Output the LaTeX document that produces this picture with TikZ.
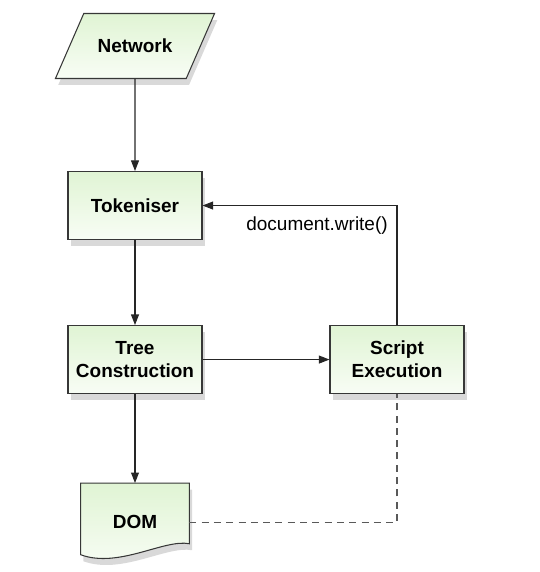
\documentclass[tikz,border=0pt]{standalone}
\usepackage{fontspec}
\setmainfont{Liberation Sans}
\usetikzlibrary{arrows.meta,positioning,shapes.geometric,shadows,backgrounds,calc}

\definecolor{boxtop}{RGB}{224,244,212}
\definecolor{boxbot}{RGB}{248,253,245}
\definecolor{edgegray}{RGB}{55,55,55}

\begin{document}
\begin{tikzpicture}[
    x=0.02cm, y=-0.02cm,
    flowbox/.style={
      rectangle, draw=edgegray, line width=0.6pt,
      top color=boxtop, bottom color=boxbot,
      drop shadow={shadow xshift=0.3ex, shadow yshift=-0.7ex, opacity=0.3},
      align=center, font=\fontsize{10.8}{13}\selectfont\bfseries,
      minimum width=2.68cm, minimum height=1.36cm,
    },
    iobox/.style={
      flowbox, trapezium, trapezium left angle=47, trapezium right angle=133,
      trapezium stretches=true, minimum width=3.2cm, minimum height=1.3cm,
    },
    docfill/.style={
      draw=edgegray, line width=0.6pt,
      top color=boxtop, bottom color=boxbot,
      drop shadow={shadow xshift=0.3ex, shadow yshift=-0.7ex, opacity=0.3},
    },
    arr/.style={-{Triangle[length=6pt,width=4.5pt]}, draw=black!85, line width=0.6pt},
    dashline/.style={dash pattern=on 4pt off 3pt, draw=black!65, line width=0.6pt},
    wlabel/.style={inner sep=0pt, font=\fontsize{10.8}{13}\selectfont},
  ]
  \useasboundingbox (0,0) rectangle (539,572);

  % Input
  \node[iobox] (net) at (135,46) {Network};

  % Parser stages
  \node[flowbox, below=1.84cm of net] (tok) {Tokeniser};
  \node[flowbox, below=1.7cm of tok] (tree) {Tree\\Construction};
  \node[flowbox, right=2.54cm of tree] (script) {Script\\Execution};

  % Output document
  \node[rectangle, font=\fontsize{10.8}{13}\selectfont\bfseries,
        minimum width=2.16cm, minimum height=1.56cm,
        below=1.78cm of tree] (dom) {DOM};
  \begin{scope}[on background layer]
    \path[docfill] (dom.north west) -- (dom.north east)
      -- ($(dom.south east)+(0,-18)$)
      .. controls ($(dom.south east)+(-25,-23)$) and ($(dom.south west)+(38,7)$)
      .. ($(dom.south west)+(0,-7)$) -- cycle;
  \end{scope}

  % Flow
  \draw[arr] (net) -- (tok);
  \draw[arr] (tok) -- (tree);
  \draw[arr] (tree) -- (dom);
  \draw[arr] (tree) -- (script);

  % Feedback from scripts
  \draw[arr] (script.north) |- node[wlabel, pos=0.5, below left=6pt and 5pt] {document.write()} (tok.east);
  \draw[dashline] (dom.east) -| (script.south);

\end{tikzpicture}
\end{document}
